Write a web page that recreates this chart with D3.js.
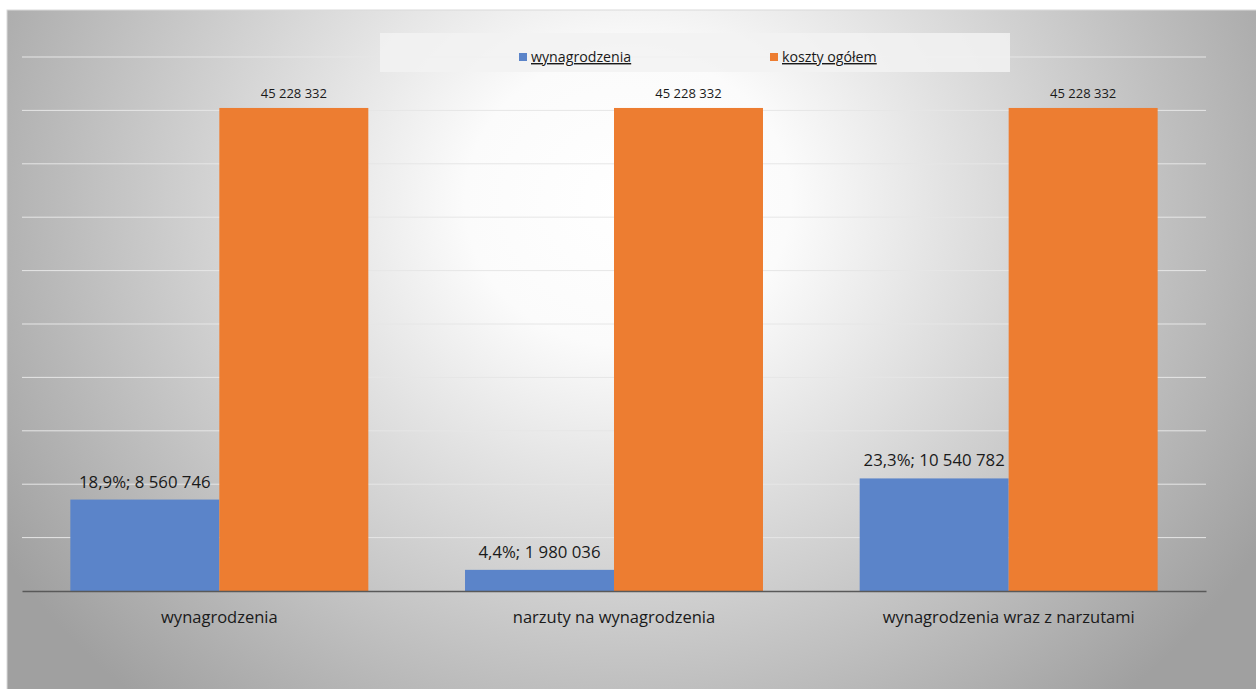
<!DOCTYPE html>
<html><head><meta charset="utf-8">
<script src="https://cdn.jsdelivr.net/npm/d3@7"></script>
<style>body{margin:0;background:#fff;}svg{display:block;font-family:"Open Sans","Noto Sans",sans-serif;}</style>
</head><body>
<svg id="c" width="1256" height="689"></svg>
<script>
const categories = ["wynagrodzenia", "narzuty na wynagrodzenia", "wynagrodzenia wraz z narzutami"];
const seriesNames = ["wynagrodzenia", "koszty ogółem"];
const wynagrodzenia = [8560746, 1980036, 10540782];
const kosztyOgolem = [45228332, 45228332, 45228332];
const shares = ["18,9%", "4,4%", "23,3%"];
const colors = ["#5b84c9", "#ed7d31"];
const yTicks = [0, 5e6, 10e6, 15e6, 20e6, 25e6, 30e6, 35e6, 40e6, 45e6, 50e6];

const svg = d3.select("#c");
const defs = svg.append("defs");
const g = defs.append("radialGradient").attr("id","bg")
  .attr("gradientUnits","userSpaceOnUse").attr("cx",628).attr("cy",200).attr("r",740)
  .attr("gradientTransform","translate(628,200) scale(1,0.9) translate(-628,-200)");
g.append("stop").attr("offset","0").attr("stop-color","#ffffff");
g.append("stop").attr("offset","0.22").attr("stop-color","#fbfbfb");
g.append("stop").attr("offset","1").attr("stop-color","#a0a0a0");

svg.append("rect").attr("x",7).attr("y",10).attr("width",1256).attr("height",690)
  .attr("fill","url(#bg)").attr("stroke","#d9d9d9").attr("stroke-width",1);

const fmt = v => d3.format(",")(v).replace(/,/g, " ");

const plot = {left:22, right:1206, top:57, bottom:591};
const x0 = d3.scaleBand().domain(categories).range([plot.left, plot.right]).paddingInner(0.245).paddingOuter(0.1225);
const x1 = d3.scaleBand().domain(seriesNames).range([0, x0.bandwidth()]).padding(0);
const y = d3.scaleLinear().domain([0, 50e6]).range([plot.bottom, plot.top]);

// gridlines
svg.append("g").selectAll("line").data(yTicks.slice(1)).join("line")
  .attr("x1",plot.left).attr("x2",plot.right)
  .attr("y1",d=>y(d)).attr("y2",d=>y(d))
  .attr("stroke","#e6e6e6").attr("stroke-width",1);

// bars
const data = categories.map((c,i)=>({c, vals:[wynagrodzenia[i], kosztyOgolem[i]], share:shares[i]}));
const grp = svg.append("g").selectAll("g").data(data).join("g")
  .attr("transform",d=>`translate(${x0(d.c)},0)`);
grp.selectAll("rect").data(d=>d.vals.map((v,j)=>({v, s:seriesNames[j], j}))).join("rect")
  .attr("x",d=>x1(d.s)).attr("width",x1.bandwidth())
  .attr("y",d=>y(d.v)).attr("height",d=>y(0)-y(d.v))
  .attr("fill",d=>colors[d.j]);

// labels
grp.append("text").attr("x",x1("wynagrodzenia")+x1.bandwidth()/2)
  .attr("y",d=>y(d.vals[0])-12).attr("text-anchor","middle")
  .attr("font-size",16.8).attr("fill","#1a1a1a")
  .text(d=>`${d.share}; ${fmt(d.vals[0])}`);
grp.append("text").attr("x",x1("koszty ogółem")+x1.bandwidth()/2)
  .attr("y",d=>y(d.vals[1])-10).attr("text-anchor","middle")
  .attr("font-size",13).attr("fill","#1a1a1a")
  .text(d=>fmt(d.vals[1]));

// x axis
const xAxis = svg.append("g").attr("transform",`translate(0,${plot.bottom})`)
  .call(d3.axisBottom(x0).tickSize(0).tickPadding(20));
xAxis.select(".domain").attr("stroke","#595959").attr("stroke-width",1.6);
xAxis.selectAll("text").attr("font-size",16.5).attr("fill","#1a1a1a")
  .attr("font-family","'Open Sans','Noto Sans',sans-serif");

// legend
svg.append("rect").attr("x",380).attr("y",33).attr("width",630).attr("height",39)
  .attr("fill","#f2f2f2").attr("opacity",0.85);
const legX = [519, 770];
const leg = svg.append("g").selectAll("g").data(seriesNames).join("g")
  .attr("transform",(d,i)=>`translate(${legX[i]},52)`);
leg.append("rect").attr("width",8).attr("height",8).attr("y",1).attr("fill",(d,i)=>colors[i]);
leg.append("text").attr("x",12).attr("y",10).attr("font-size",14.2).attr("fill","#1a1a1a")
  .attr("text-decoration","underline").text(d=>d);
</script>
</body></html>
